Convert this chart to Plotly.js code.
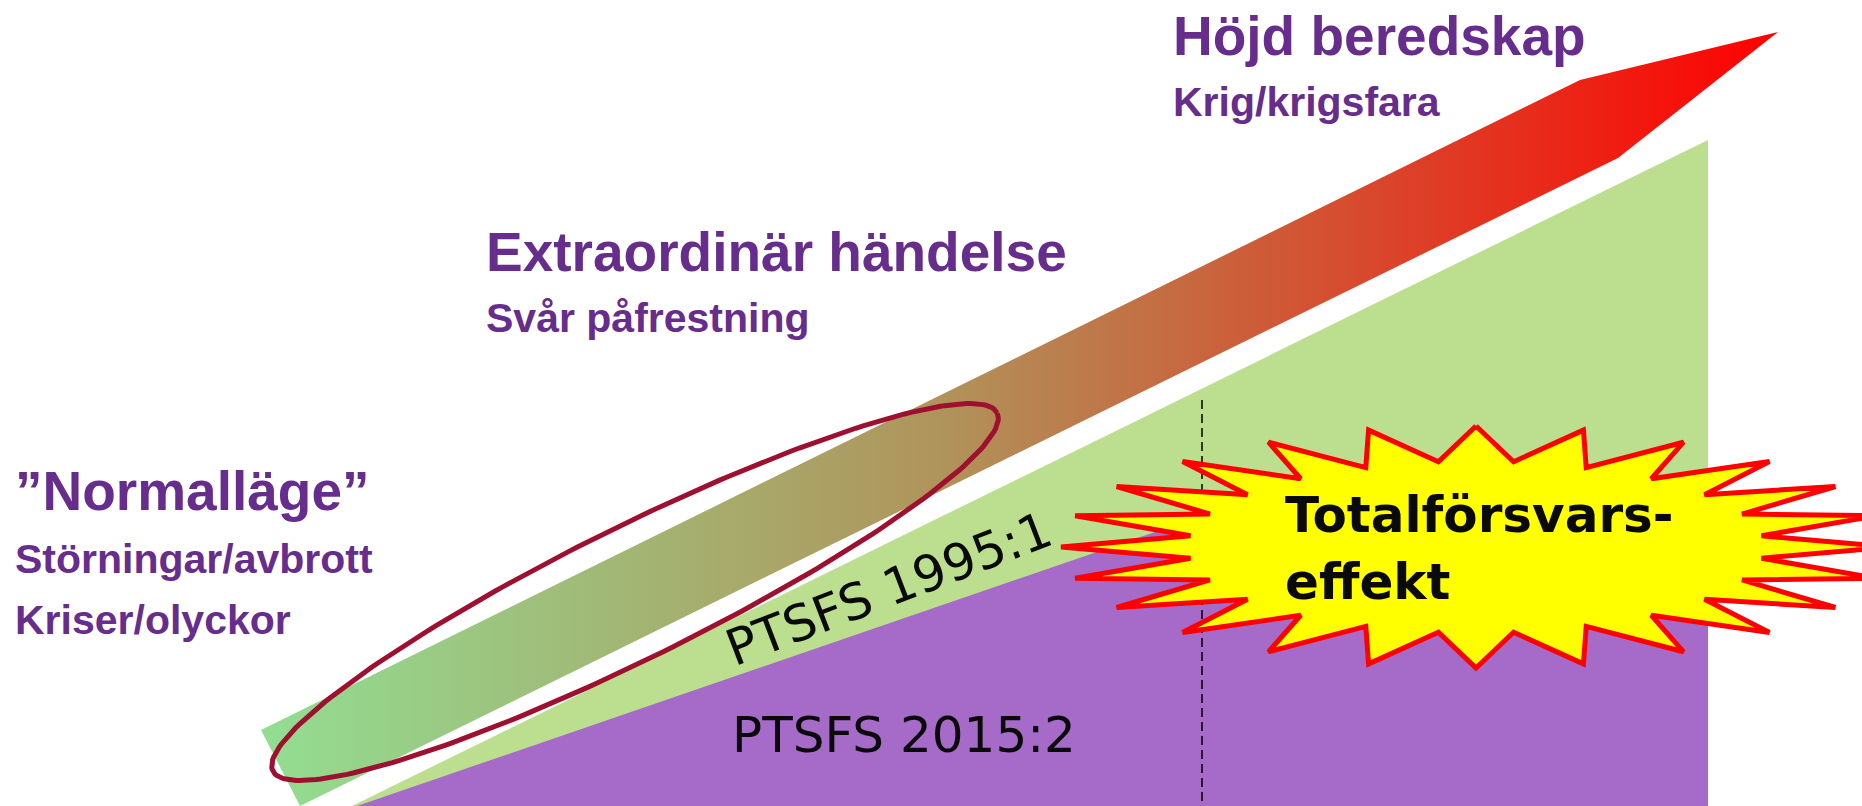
<!DOCTYPE html>
<html>
<head>
<meta charset="utf-8">
<script src="https://cdn.plot.ly/plotly-3.0.1.min.js"></script>
<style>
  html, body { margin: 0; padding: 0; background: #ffffff; }
  #chart { width: 1862px; height: 806px; }
</style>
</head>
<body>
<div id="chart"></div>
<script>
// ---- Diagram data (drawing units = canvas pixels, y downwards) ----
const bandX   = [261, 1580, 1778, 1618, 300];
const bandY   = [730, 80, 32, 158, 806];
const greenX  = [352, 1708, 1708];
const greenY  = [806, 140, 806];
const purpleX = [357, 1260, 1708, 1708];
const purpleY = [806, 496, 560, 806];
const dashX   = [1202, 1202];
const dashY   = [400, 806];

// Ellipse (center, semi axes, tilt in degrees)
const ellipseCenter = [635, 592];
const ellipseAxes   = [404, 66];
const ellipseTilt   = 26.3;

// Starburst (center, outer radii, inner radii, number of points)
const starCenter = [1476, 547];
const starOuter  = [415, 121];
const starInner  = [288, 86];
const starPoints = 24;

// Labels
const headLabels = ['Höjd beredskap', 'Extraordinär händelse', '”Normalläge”'];
const headX      = [1171, 484, 13];
const headY      = [36, 252, 491];
const subLabels  = ['Krig/krigsfara', 'Svår påfrestning', 'Störningar/avbrott', 'Kriser/olyckor'];
const subX       = [1171, 484, 13, 13];
const subY       = [102, 318, 559, 620];
const starLabels = ['Totalförsvars-', 'effekt'];
const starLabelX = [1283, 1283];
const starLabelY = [515, 582];
const regLabels  = ['PTSFS 1995:1', 'PTSFS 2015:2'];
const regX       = [889, 730];
const regY       = [589, 735];
const regAngle   = [-21, 0];

// ---- Build geometry ----
function ellipsePts() {
  const xs = [], ys = [];
  const th = ellipseTilt * Math.PI / 180;
  for (let i = 0; i <= 240; i++) {
    const t = 2 * Math.PI * i / 240;
    const u = ellipseAxes[0] * Math.cos(t), v = ellipseAxes[1] * Math.sin(t);
    xs.push(ellipseCenter[0] + u * Math.cos(th) - v * Math.sin(th));
    ys.push(ellipseCenter[1] - (u * Math.sin(th) + v * Math.cos(th)));
  }
  return [xs, ys];
}
function starPts() {
  const xs = [], ys = [];
  const n = starPoints * 2;
  for (let i = 0; i <= n; i++) {
    const phi = 2 * Math.PI * i / n;
    const r = (i % 2 === 0) ? starOuter : starInner;
    xs.push(starCenter[0] + r[0] * Math.sin(phi));
    ys.push(starCenter[1] - r[1] * Math.cos(phi));
  }
  return [xs, ys];
}
const [ex, ey] = ellipsePts();
const [sx, sy] = starPts();

const traces = [
  { x: greenX, y: greenY, mode: 'lines', fill: 'toself', fillcolor: '#bcde8f',
    line: { width: 0, color: 'rgba(0,0,0,0)' }, hoverinfo: 'skip' },
  { x: purpleX, y: purpleY, mode: 'lines', fill: 'toself', fillcolor: '#a66ac8',
    line: { width: 0, color: 'rgba(0,0,0,0)' }, hoverinfo: 'skip' },
  { x: bandX, y: bandY, mode: 'lines', fill: 'toself', fillcolor: '#b0935a',
    fillgradient: { type: 'horizontal',
      colorscale: [[0, 'rgb(146,222,146)'], [0.45, 'rgb(176,147,90)'], [1, 'rgb(255,0,0)']] },
    line: { width: 0, color: 'rgba(0,0,0,0)' }, hoverinfo: 'skip' },
  { x: ex, y: ey, mode: 'lines', line: { width: 5, color: '#9e1030' }, hoverinfo: 'skip' },
  { x: dashX, y: dashY, mode: 'lines', line: { width: 1.5, color: '#000000', dash: '9px,5px' }, hoverinfo: 'skip' },
  { x: sx, y: sy, mode: 'lines', fill: 'toself', fillcolor: '#ffff00',
    line: { width: 5, color: '#ff0000' }, hoverinfo: 'skip' }
];

const purple = '#662d8c';
const annotations = [];
headLabels.forEach((t, i) => annotations.push({
  text: t, x: headX[i], y: headY[i], xref: 'x', yref: 'y', xanchor: 'left', yanchor: 'middle',
  showarrow: false, font: { family: 'Liberation Sans, Arial, sans-serif', size: 55, color: purple, weight: 'bold' }
}));
subLabels.forEach((t, i) => annotations.push({
  text: t, x: subX[i], y: subY[i], xref: 'x', yref: 'y', xanchor: 'left', yanchor: 'middle',
  showarrow: false, font: { family: 'Liberation Sans, Arial, sans-serif', size: 41, color: purple, weight: 'bold' }
}));
starLabels.forEach((t, i) => annotations.push({
  text: t, x: starLabelX[i], y: starLabelY[i], xref: 'x', yref: 'y', xanchor: 'left', yanchor: 'middle',
  showarrow: false, font: { family: 'DejaVu Sans, sans-serif', size: 50, color: '#0a0a0a', weight: 'bold' }
}));
regLabels.forEach((t, i) => annotations.push({
  text: t, x: regX[i], y: regY[i], xref: 'x', yref: 'y',
  xanchor: i === 0 ? 'center' : 'left', yanchor: 'middle', textangle: regAngle[i],
  showarrow: false, font: { family: 'DejaVu Sans, sans-serif', size: 50, color: '#0a0a0a' }
}));

const layout = {
  width: 1862, height: 806,
  margin: { l: 0, r: 0, t: 0, b: 0, pad: 0 },
  paper_bgcolor: '#ffffff', plot_bgcolor: '#ffffff',
  showlegend: false,
  xaxis: { range: [0, 1862], visible: false, fixedrange: true },
  yaxis: { range: [806, 0], visible: false, fixedrange: true },
  annotations: annotations
};

Plotly.newPlot('chart', traces, layout, { staticPlot: true, displayModeBar: false });
</script>
</body>
</html>
